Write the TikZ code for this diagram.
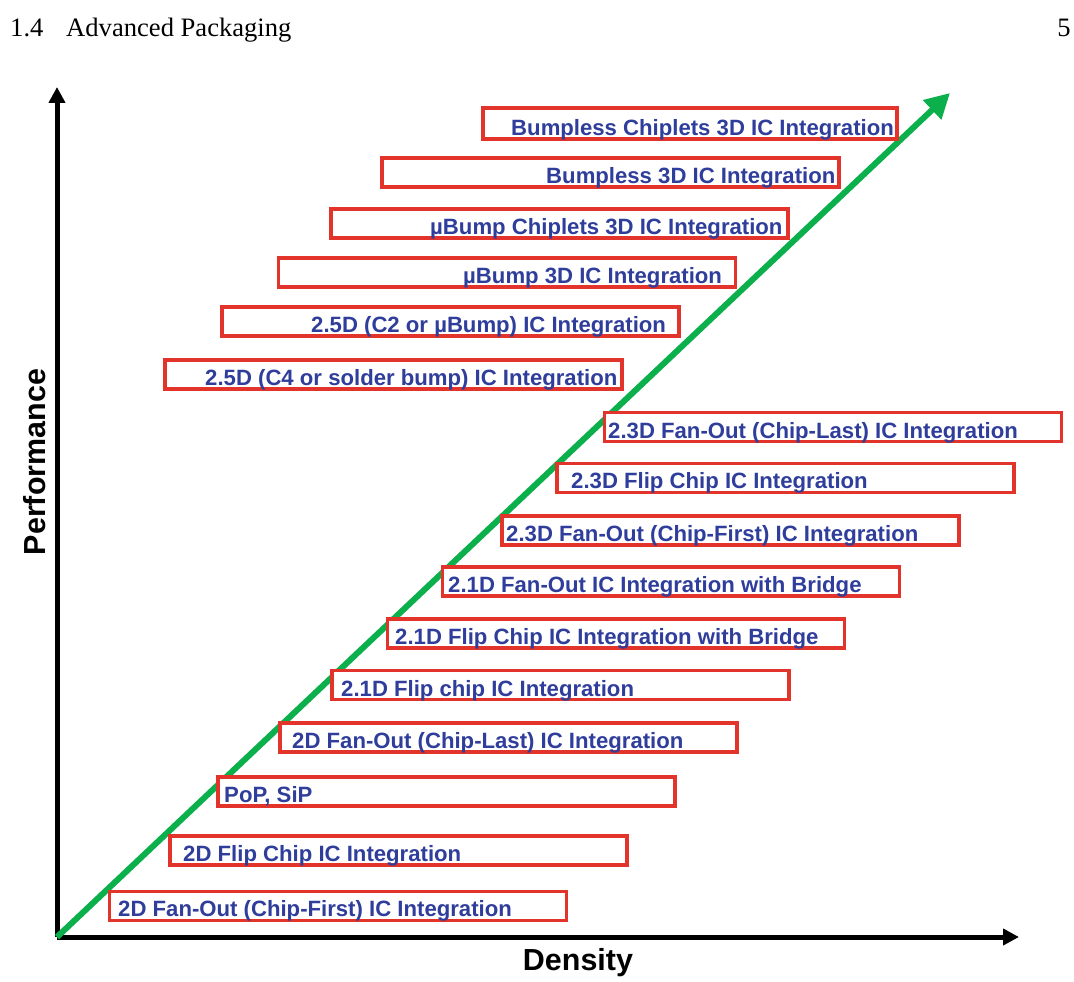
\documentclass[tikz,border=0pt]{standalone}
\usepackage{fontspec}
\setmainfont{Liberation Serif}
\setsansfont{Liberation Sans}
\usepackage{xcolor}
\usetikzlibrary{positioning, arrows.meta}
\definecolor{pkgred}{HTML}{E2342B}
\definecolor{pkgblue}{HTML}{2F3D9B}
\definecolor{trendgreen}{HTML}{0BAF4B}

\begin{document}
\begin{tikzpicture}[
  x=0.3mm, y=-0.3mm,
  axis/.style={-{Triangle[length=4.8mm, width=4.8mm]}, line width=1.5mm, black},
  trend/.style={-{Triangle[length=7.4mm, width=7.6mm]}, line width=1.8mm, draw=trendgreen},
  pkgbox/.style={
    rectangle, sharp corners,
    draw=pkgred, fill=white, line width=1mm,
    minimum width=13.71cm, minimum height=0.87cm,
    inner sep=0pt
  },
  pkgtxt/.style={
    anchor=base west, inner sep=0pt,
    text=pkgblue, font=\sffamily\bfseries\fontsize{18.9}{20}\selectfont
  },
  axlbl/.style={font=\sffamily\bfseries\fontsize{26}{28}\selectfont, inner sep=0pt}
]
\useasboundingbox (0,0) rectangle (1074,982);

%% page header
\node[anchor=base west, inner sep=0pt, font=\fontsize{22.7}{24}\selectfont] (sec_no) at (10, 37) {1.4};
\node[anchor=base west, inner sep=0pt, font=\fontsize{22.7}{24}\selectfont] (sec_title) at (66, 37) {Advanced Packaging};
\node[anchor=base east, inner sep=0pt, font=\fontsize{22.7}{24}\selectfont] (page_no) at (1071, 37) {5};

%% ─── AXES ───────────────────────────────────────────────────────────────────
\coordinate (origin) at (57, 937);
\coordinate (y_tip) at (57, 87);
\coordinate (x_tip) at (1019, 937);
\coordinate (trend_tip) at (950, 93);

\draw[axis] (origin) -- (y_tip);
\draw[axis] (origin) -- (x_tip);
\draw[trend] (origin) -- (trend_tip);

\node[axlbl, rotate=90] (perf_lbl) at (35, 462) {Performance};
\node[axlbl] (dens_lbl) at (578, 963) {Density};

%% ─── 3D / 2.5D (above the trend line) ───────────────────────────────────────
\node[pkgbox, minimum width=12.42cm, minimum height=0.93cm] (bl_chip3d) at (690, 123.5) {};
\node[pkgtxt] (bl_chip3d_t) at (511, 135.5) {Bumpless Chiplets 3D IC Integration};

\node[pkgbox] (bl_3d) at (610.5, 172.5) {};
\node[pkgtxt] (bl_3d_t) at (546, 183.5) {Bumpless 3D IC Integration};

\node[pkgbox] (ub_chip3d) at (559.5, 223.5) {};
\node[pkgtxt] (ub_chip3d_t) at (430, 234.5) {µBump Chiplets 3D IC Integration};

\node[pkgbox] (ub_3d) at (507, 272.5) {};
\node[pkgtxt] (ub_3d_t) at (463, 283.5) {µBump 3D IC Integration};

\node[pkgbox] (d25_c2) at (450.5, 321.5) {};
\node[pkgtxt] (d25_c2_t) at (311, 332.5) {2.5D (C2 or µBump) IC Integration};

\node[pkgbox] (d25_c4) at (393.5, 374.5) {};
\node[pkgtxt] (d25_c4_t) at (205, 385.5) {2.5D (C4 or solder bump) IC Integration};

%% ─── 2.3D / 2.1D / 2D (below the trend line) ────────────────────────────────
\node[pkgbox] (d23_fo_last) at (833, 427) {};
\node[pkgtxt] (d23_fo_last_t) at (608, 438.5) {2.3D Fan-Out (Chip-Last) IC Integration};

\node[pkgbox] (d23_fc) at (785.5, 478) {};
\node[pkgtxt] (d23_fc_t) at (571, 488.5) {2.3D Flip Chip IC Integration};

\node[pkgbox] (d23_fo_first) at (730.5, 530.5) {};
\node[pkgtxt] (d23_fo_first_t) at (506, 541.5) {2.3D Fan-Out (Chip-First) IC Integration};

\node[pkgbox] (d21_fo_br) at (671, 581.5) {};
\node[pkgtxt] (d21_fo_br_t) at (448, 592.5) {2.1D Fan-Out IC Integration with Bridge};

\node[pkgbox] (d21_fc_br) at (616, 633.5) {};
\node[pkgtxt] (d21_fc_br_t) at (395, 644.5) {2.1D Flip Chip IC Integration with Bridge};

\node[pkgbox] (d21_fc) at (560.5, 685) {};
\node[pkgtxt] (d21_fc_t) at (341, 696.5) {2.1D Flip chip IC Integration};

\node[pkgbox] (d2_fo_last) at (508.5, 737.5) {};
\node[pkgtxt] (d2_fo_last_t) at (292, 748.5) {2D Fan-Out (Chip-Last) IC Integration};

\node[pkgbox] (pop_sip) at (446.5, 791.5) {};
\node[pkgtxt] (pop_sip_t) at (224, 802.5) {PoP, SiP};

\node[pkgbox] (d2_fc) at (398.5, 850.5) {};
\node[pkgtxt] (d2_fc_t) at (183, 861.5) {2D Flip Chip IC Integration};

\node[pkgbox] (d2_fo_first) at (338, 906) {};
\node[pkgtxt] (d2_fo_first_t) at (118, 916.5) {2D Fan-Out (Chip-First) IC Integration};

\end{tikzpicture}
\end{document}
